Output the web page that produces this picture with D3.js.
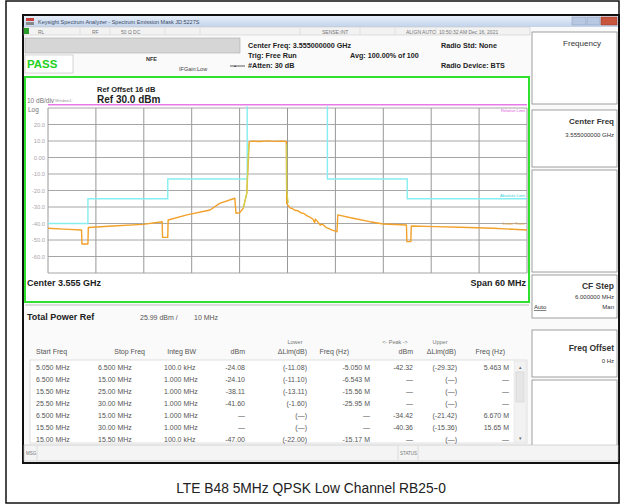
<!DOCTYPE html>
<html>
<head>
<meta charset="utf-8">
<script src="https://cdn.jsdelivr.net/npm/d3@7"></script>
<style>
body { margin: 0; background: #fff; }
text { font-family: "Liberation Sans", Arial, sans-serif; }
</style>
</head>
<body>
<div id="chart"></div>
<script>
// spectrum emission mask screen, offsets from centre in MHz

// measured trace (orange)
var traceFreq = [-30, -28, -25.8, -25.75, -25.0, -24.95, -21.9, -18.1, -15.7, -15.65, -15.0, -14.95,
    -12.6, -9.7, -8.5, -6.6, -6.45, -6.0, -5.55, -5.1, -4.8, -4.3, -3.5, -2.5, -1.6, -0.8, -0.15,
    -0.1, 0.3, 0.6, 0.9, 1.3, 1.7, 2.0, 2.4, 2.8, 3.2, 3.4, 3.5, 3.8, 4.1, 4.4, 4.8, 5.2, 5.6, 6.0, 6.2,
    6.3, 8.2, 10.3, 12.0, 14.9, 14.95, 15.45, 15.5, 18.5, 21.6, 25.8, 30];
var traceLevel = [-42.9, -43.4, -43.9, -52.4, -52.4, -42.4, -41.5, -40.5, -38.9, -48.4, -48.4, -37.9,
    -34.8, -31.8, -27.8, -24.7, -33.8, -33.5, -30.8, -21.7, 9.6, 9.9, 9.7, 10.1, 9.8, 9.9, 9.7,
    -27.8, -30.5, -30.9, -32.0, -32.3, -33.6, -33.8, -35.2, -36.1, -37.4, -39.5, -37.4, -39.0, -40.9, -40.4, -42.3, -43.1, -44.0, -44.6, -45.0,
    -34.8, -36.8, -38.9, -40.3, -40.9, -51.0, -51.0, -41.5, -41.9, -42.3, -42.9, -43.9];

// second trace, only visible on the channel edges (yellow-green)
var edgeLowFreq = [-5.55, -5.1, -4.85];
var edgeLowLevel = [-30.8, -21.7, 8.0];
var edgeUpFreq = [-0.12, -0.1, 0.1];
var edgeUpLevel = [8.0, -20.0, -27.6];

// absolute limit (cyan)
var maskLowFreq = [-30, -25, -25, -15, -15, -5.05, -5.05];
var maskLowLevel = [-40, -40, -25, -25, -13, -13, 31];
var maskUpFreq = [5, 5, 15, 15, 30];
var maskUpLevel = [31, -13, -13, -25, -25];

// relative limit (magenta)
var relFreq = [-30, 30];
var relLevel = [32, 32];

var yTickValues = [20, 10, 0, -10, -20, -30, -40, -50, -60];
var yTickLabels = ["20.0", "10.0", "0.00", "-10.0", "-20.0", "-30.0", "-40.0", "-50.0", "-60.0"];

// result table
var colHeaders = ["Start Freq", "Stop Freq", "Integ BW", "dBm", "\u0394Lim(dB)", "Freq (Hz)", "dBm", "\u0394Lim(dB)", "Freq (Hz)"];
var rowStart = ["5.050 MHz", "6.500 MHz", "15.50 MHz", "25.50 MHz", "6.500 MHz", "15.50 MHz", "15.00 MHz"];
var rowStop = ["6.500 MHz", "15.00 MHz", "25.00 MHz", "30.00 MHz", "15.00 MHz", "30.00 MHz", "15.50 MHz"];
var rowBW = ["100.0 kHz", "1.000 MHz", "1.000 MHz", "1.000 MHz", "1.000 MHz", "1.000 MHz", "100.0 kHz"];
var lowDbm = ["-24.08", "-24.10", "-38.11", "-41.60", "\u2014", "\u2014", "-47.00"];
var lowDelta = ["(-11.08)", "(-11.10)", "(-13.11)", "(-1.60)", "(\u2014)", "(\u2014)", "(-22.00)"];
var lowFreq = ["-5.050 M", "-6.543 M", "-15.56 M", "-25.95 M", "\u2014", "\u2014", "-15.17 M"];
var upDbm = ["-42.32", "\u2014", "\u2014", "\u2014", "-34.42", "-40.36", "\u2014"];
var upDelta = ["(-29.32)", "(\u2014)", "(\u2014)", "(\u2014)", "(-21.42)", "(-15.36)", "(\u2014)"];
var upFreq = ["5.463 M", "\u2014", "\u2014", "\u2014", "6.670 M", "15.65 M", "\u2014"];

var width = 621
var height = 504

var svg = d3.select("#chart")
    .append("svg")
    .attr("width", width)
    .attr("height", height);

// outer photo frame
svg.append("rect")
    .attr("x", 6).attr("y", 1).attr("width", 613).attr("height", 502)
    .attr("fill", "#fff").attr("stroke", "#111").attr("stroke-width", 1.5);

// window
svg.append("rect")
    .attr("x", 23).attr("y", 15).attr("width", 596).attr("height", 448)
    .attr("fill", "#fafafa").attr("stroke", "#111").attr("stroke-width", 2);

var grad = svg.append("defs").append("linearGradient")
    .attr("id", "tb").attr("x1", 0).attr("x2", 0).attr("y1", 0).attr("y2", 1);
grad.append("stop").attr("offset", "0%").attr("stop-color", "#e6eef9");
grad.append("stop").attr("offset", "100%").attr("stop-color", "#c2d3ea");

svg.append("rect")
    .attr("x", 24).attr("y", 16).attr("width", 594).attr("height", 11)
    .attr("fill", "url(#tb)");
svg.append("rect").attr("x", 26).attr("y", 18).attr("width", 8).attr("height", 3).attr("fill", "#c9403a");
svg.append("rect").attr("x", 26).attr("y", 22).attr("width", 8).attr("height", 3).attr("fill", "#888");
svg.append("text").attr("x", 38).attr("y", 24).attr("font-size", 5.5).attr("fill", "#3a4a66")
    .text("Keysight Spectrum Analyzer - Spectrum Emission Mask JD:5227S");
svg.append("rect").attr("x", 572).attr("y", 17).attr("width", 14).attr("height", 8).attr("fill", "#b8c8e0").attr("stroke", "#8899bb").attr("stroke-width", 0.5);
svg.append("rect").attr("x", 587).attr("y", 17).attr("width", 13).attr("height", 8).attr("fill", "#b8c8e0").attr("stroke", "#8899bb").attr("stroke-width", 0.5);
svg.append("rect").attr("x", 601).attr("y", 17).attr("width", 16).attr("height", 8).attr("fill", "#c8553e").attr("stroke", "#8a3020").attr("stroke-width", 0.5);

// status row
svg.append("rect").attr("x", 24).attr("y", 27).attr("width", 506).attr("height", 8)
    .attr("fill", "#f2f2f2").attr("stroke", "#c4c4c4").attr("stroke-width", 0.5);
svg.append("rect").attr("x", 24).attr("y", 28).attr("width", 5).attr("height", 6).attr("fill", "#2a9a2a");
var statusText = [[38, "RL"], [92, "RF"], [121, "50 \u03a9  DC"], [322, "SENSE:INT"], [406, "ALIGN AUTO"], [439, "10:50:32 AM Dec 16, 2021"]];
svg.append("g").selectAll("text").data(statusText).join("text")
    .attr("x", d => d[0]).attr("y", 33.5).attr("font-size", 5).attr("fill", "#777")
    .text(d => d[1]);
[80, 110, 165, 200, 300, 360, 395, 436].forEach(function (x) {
    svg.append("line").attr("x1", x).attr("x2", x).attr("y1", 28).attr("y2", 35).attr("stroke", "#ccc").attr("stroke-width", 0.5);
});

// header
svg.append("rect").attr("x", 25).attr("y", 38).attr("width", 215).attr("height", 15)
    .attr("fill", "#d6d6d6").attr("stroke", "#aaa").attr("stroke-width", 0.6);
svg.append("rect").attr("x", 25).attr("y", 55).attr("width", 48).attr("height", 18)
    .attr("fill", "#fff").attr("stroke", "#bbb").attr("stroke-width", 0.6);
svg.append("text").attr("x", 27).attr("y", 68).attr("font-size", 11.5).attr("font-weight", "bold")
    .attr("fill", "#22d022").text("PASS");
svg.append("text").attr("x", 146).attr("y", 61).attr("font-size", 5.5).attr("font-weight", "bold").attr("fill", "#333").text("NFE");
svg.append("text").attr("x", 179).attr("y", 71).attr("font-size", 5.5).attr("fill", "#444").text("IFGain:Low");
svg.append("line").attr("x1", 230).attr("x2", 245).attr("y1", 66).attr("y2", 66).attr("stroke", "#333").attr("stroke-width", 0.8);
svg.append("text").attr("x", 234).attr("y", 68).attr("font-size", 6).attr("fill", "#333").text("\u2022");

var headerText = [[248, 48, "Center Freq: 3.555000000 GHz"], [248, 58, "Trig: Free Run"], [248, 68, "#Atten: 30 dB"],
    [350, 58, "Avg: 100.00% of 100"], [441, 48, "Radio Std: None"], [441, 68, "Radio Device: BTS"]];
svg.append("g").selectAll("text").data(headerText).join("text")
    .attr("x", d => d[0]).attr("y", d => d[1]).attr("font-size", 7.2).attr("font-weight", "bold")
    .attr("fill", "#222").text(d => d[2]);

// right soft-key panel
var panels = [[32, 104], [110, 167], [170, 272], [275, 318], [330, 377], [380, 456]];
svg.append("g").selectAll("rect").data(panels).join("rect")
    .attr("x", 532).attr("y", d => d[0]).attr("width", 85).attr("height", d => d[1] - d[0])
    .attr("fill", "#fff").attr("stroke", "#888").attr("stroke-width", 0.8);
svg.append("text").attr("x", 582).attr("y", 46).attr("text-anchor", "middle").attr("font-size", 8).attr("fill", "#333").text("Frequency");
var panelText = [[124, 8, "bold", "Center Freq"], [137, 6, "normal", "3.555000000 GHz"], [289, 8.5, "bold", "CF Step"],
    [299, 6, "normal", "6.000000 MHz"], [309, 6, "normal", "Man"], [351, 8.5, "bold", "Freq Offset"], [363, 6, "normal", "0 Hz"]];
svg.append("g").selectAll("text").data(panelText).join("text")
    .attr("x", 614).attr("y", d => d[0]).attr("text-anchor", "end").attr("font-size", d => d[1])
    .attr("font-weight", d => d[2]).attr("fill", "#333").text(d => d[3]);
svg.append("text").attr("x", 534).attr("y", 309).attr("font-size", 6).attr("fill", "#333")
    .attr("text-decoration", "underline").text("Auto");

// green measurement frame
svg.append("rect").attr("x", 25).attr("y", 77).attr("width", 504).attr("height", 225)
    .attr("fill", "#fff").attr("stroke", "#2fe02f").attr("stroke-width", 2);

svg.append("text").attr("x", 97).attr("y", 92).attr("font-size", 7.5).attr("font-weight", "bold").attr("fill", "#222").text("Ref Offset 16 dB");
svg.append("text").attr("x", 27).attr("y", 103).attr("font-size", 6.5).attr("fill", "#777").text("10 dB/div");
svg.append("text").attr("x", 55).attr("y", 102).attr("font-size", 4).attr("fill", "#999").text("Window1:");
svg.append("text").attr("x", 97).attr("y", 103).attr("font-size", 10).attr("font-weight", "bold").attr("fill", "#222").text("Ref 30.0 dBm");
svg.append("text").attr("x", 28).attr("y", 112).attr("font-size", 6.5).attr("fill", "#777").text("Log");

// scales
var x = d3.scaleLinear().domain([-30, 30]).range([48, 527])
var y = d3.scaleLinear().domain([-70, 30]).range([273, 108])

var grid = svg.append("g").attr("stroke", "#8c8c8c").attr("stroke-width", 0.9);
grid.selectAll(".v").data(d3.range(-30, 31, 6)).join("line")
    .attr("x1", d => x(d)).attr("x2", d => x(d)).attr("y1", y(30)).attr("y2", y(-70));
grid.selectAll(".h").data(d3.range(-70, 31, 10)).join("line")
    .attr("x1", x(-30)).attr("x2", x(30)).attr("y1", d => y(d)).attr("y2", d => y(d))
    .attr("stroke", "#9c9c9c");

svg.append("g").selectAll("text").data(yTickValues).join("text")
    .attr("x", 45).attr("y", d => y(d) + 2).attr("text-anchor", "end")
    .attr("font-size", 5.8).attr("fill", "#a8a8a8")
    .text((d, i) => yTickLabels[i]);

var line = d3.line().x(d => x(d[0])).y(d => y(d[1]));

// relative limit
svg.append("path").datum(d3.zip(relFreq, relLevel))
    .attr("fill", "none").attr("stroke", "#e87ae8").attr("stroke-width", 1.6).attr("d", line);
// absolute limit
svg.append("path").datum(d3.zip(maskLowFreq, maskLowLevel))
    .attr("fill", "none").attr("stroke", "#86eef0").attr("stroke-width", 1.4).attr("d", line);
svg.append("path").datum(d3.zip(maskUpFreq, maskUpLevel))
    .attr("fill", "none").attr("stroke", "#86eef0").attr("stroke-width", 1.4).attr("d", line);

// trace
svg.append("path").datum(d3.zip(traceFreq, traceLevel))
    .attr("fill", "none").attr("stroke", "#f2a12a").attr("stroke-width", 1.4)
    .attr("stroke-linejoin", "round").attr("d", line);
svg.append("path").datum(d3.zip(edgeLowFreq, edgeLowLevel))
    .attr("fill", "none").attr("stroke", "#cbd64e").attr("stroke-width", 1.1).attr("d", line);
svg.append("path").datum(d3.zip(edgeUpFreq, edgeUpLevel))
    .attr("fill", "none").attr("stroke", "#cbd64e").attr("stroke-width", 1.1).attr("d", line);

svg.append("text").attr("x", 525).attr("y", 112).attr("text-anchor", "end").attr("font-size", 4).attr("fill", "#e060e0").text("Relative Limit");
svg.append("text").attr("x", 525).attr("y", 197).attr("text-anchor", "end").attr("font-size", 4).attr("fill", "#40d0d8").text("Absolute Limit");
svg.append("text").attr("x", 525).attr("y", 225).attr("text-anchor", "end").attr("font-size", 4).attr("fill", "#e8a030").text("Lower Trace");

svg.append("text").attr("x", 27).attr("y", 286).attr("font-size", 9).attr("font-weight", "bold").attr("fill", "#222").text("Center  3.555 GHz");
svg.append("text").attr("x", 526).attr("y", 286).attr("text-anchor", "end").attr("font-size", 9).attr("font-weight", "bold").attr("fill", "#222").text("Span 60 MHz");

// result table
svg.append("line").attr("x1", 25).attr("x2", 529).attr("y1", 305).attr("y2", 305).attr("stroke", "#bbb");
svg.append("text").attr("x", 27).attr("y", 320).attr("font-size", 9).attr("font-weight", "bold").attr("fill", "#222").text("Total Power Ref");
svg.append("text").attr("x", 140).attr("y", 320).attr("font-size", 7).attr("fill", "#555").text("25.99 dBm /");
svg.append("text").attr("x", 194).attr("y", 320).attr("font-size", 7).attr("fill", "#555").text("10 MHz");

svg.append("text").attr("x", 295).attr("y", 344).attr("text-anchor", "middle").attr("font-size", 5.5).attr("fill", "#777").text("Lower");
svg.append("text").attr("x", 395).attr("y", 344).attr("text-anchor", "middle").attr("font-size", 5.5).attr("fill", "#777").text("<- Peak ->");
svg.append("text").attr("x", 440).attr("y", 344).attr("text-anchor", "middle").attr("font-size", 5.5).attr("fill", "#777").text("Upper");

// column x and anchor
var colX = [36, 145, 196, 245, 307, 349, 413, 456, 505];
var colAnchor = ["start", "end", "end", "end", "end", "end", "end", "end", "end"];
var valX = [36, 98, 164, 245, 307, 370, 413, 457, 509];
var valAnchor = ["start", "start", "start", "end", "end", "end", "end", "end", "end"];

svg.append("g").selectAll("text").data(colHeaders).join("text")
    .attr("x", (d, i) => colX[i]).attr("y", 354).attr("text-anchor", (d, i) => colAnchor[i])
    .attr("font-size", 7).attr("fill", "#555").text(d => d);

svg.append("rect").attr("x", 30).attr("y", 360).attr("width", 497).attr("height", 83)
    .attr("fill", "#fff").attr("stroke", "#ccc").attr("stroke-width", 0.6);
svg.append("rect").attr("x", 514).attr("y", 361).attr("width", 12).attr("height", 81)
    .attr("fill", "#f2f2f2").attr("stroke", "#ddd").attr("stroke-width", 0.5);
svg.append("rect").attr("x", 516).attr("y", 372).attr("width", 8).attr("height", 30)
    .attr("fill", "#e6e6e6").attr("stroke", "#ccc").attr("stroke-width", 0.5);
svg.append("text").attr("x", 520).attr("y", 369).attr("text-anchor", "middle").attr("font-size", 5).attr("fill", "#666").text("\u25b4");
svg.append("text").attr("x", 520).attr("y", 440).attr("text-anchor", "middle").attr("font-size", 5).attr("fill", "#666").text("\u25be");

var columns = [rowStart, rowStop, rowBW, lowDbm, lowDelta, lowFreq, upDbm, upDelta, upFreq];
var cells = [];
columns.forEach(function (col, c) {
    col.forEach(function (v, r) { cells.push({ c: c, r: r, v: v }); });
});
svg.append("g").selectAll("text").data(cells).join("text")
    .attr("x", d => valX[d.c]).attr("y", d => 370 + d.r * 12)
    .attr("text-anchor", d => valAnchor[d.c])
    .attr("font-size", 7).attr("fill", "#555").text(d => d.v);

// bottom status bar
svg.append("rect").attr("x", 24).attr("y", 445).attr("width", 594).attr("height", 16)
    .attr("fill", "#f4f4f4").attr("stroke", "#bbb").attr("stroke-width", 0.6);
svg.append("text").attr("x", 26).attr("y", 455).attr("font-size", 4.5).attr("fill", "#777").text("MSG");
svg.append("text").attr("x", 400).attr("y", 455).attr("font-size", 4.5).attr("fill", "#777").text("STATUS");
[37, 398, 418].forEach(function (x0) {
    svg.append("line").attr("x1", x0).attr("x2", x0).attr("y1", 446).attr("y2", 460).attr("stroke", "#ccc").attr("stroke-width", 0.6);
});

// caption
svg.append("text").attr("x", 311).attr("y", 493).attr("text-anchor", "middle")
    .attr("font-size", 13.8).attr("fill", "#222")
    .text("LTE B48 5MHz QPSK Low Channel RB25-0");
</script>
</body>
</html>
